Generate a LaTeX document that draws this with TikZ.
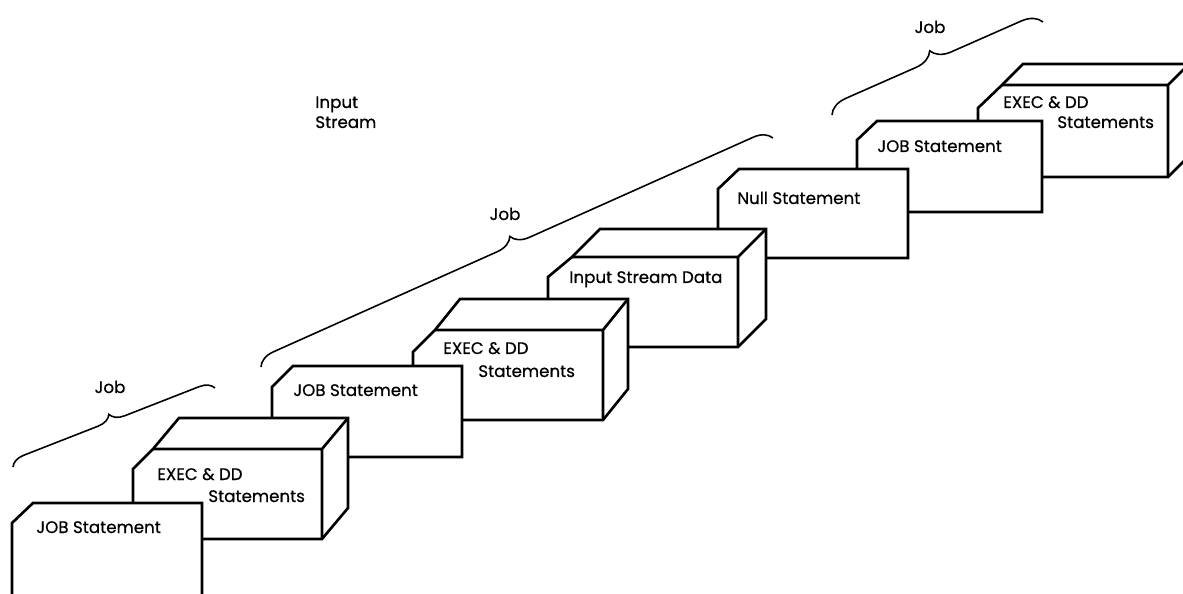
\documentclass[tikz,border=0pt]{standalone}
\usepackage{fontspec}
\setmainfont{Poppins}[FakeBold=0.6]
\usetikzlibrary{decorations.pathreplacing}
\begin{document}
\begin{tikzpicture}[x=0.02cm,y=-0.02cm,every node/.style={font=\fontsize{9.5}{11}\selectfont,inner sep=0pt,anchor=base west},block/.style={draw=black,line width=1.5pt,fill=white,line join=miter},edge/.style={draw=black,line width=1.5pt},jobbrace/.style={draw=black,line width=0.9pt,decorate,decoration={brace,amplitude=#1}}]
\useasboundingbox (0,0) rectangle (1183,594);
\clip (0,0) rectangle (1183,594);
% last job (top right)
\draw[block] (978,177) -- (978,108) -- (1002,85) -- (1023,64) -- (1189,64) -- (1189,156) -- (1168,177) -- cycle;
\draw[edge] (1002,85) -- (1168,85) -- (1168,177) (1168,85) -- (1189,64);
\draw[block] (857,212) -- (857,140) -- (877,121) -- (1042,121) -- (1042,212) -- cycle;
% null statement
\draw[block] (718,258) -- (718,189) -- (739,169) -- (908,169) -- (908,258) -- cycle;
% first big job
\draw[block] (548,347) -- (548,277) -- (572,257) -- (600,229) -- (766,229) -- (766,319) -- (738,347) -- cycle;
\draw[edge] (572,257) -- (738,257) -- (738,347) (738,257) -- (766,229);
\draw[block] (413,420) -- (413,352) -- (435,330) -- (460,299) -- (628,299) -- (628,389) -- (603,420) -- cycle;
\draw[edge] (435,330) -- (603,330) -- (603,420) (603,330) -- (628,299);
\draw[block] (272,457) -- (272,387) -- (293,366) -- (462,366) -- (462,457) -- cycle;
% first job (bottom left)
\draw[block] (133,539) -- (133,469) -- (153,449) -- (179,418) -- (348,418) -- (348,508) -- (322,539) -- cycle;
\draw[edge] (153,449) -- (322,449) -- (322,539) (322,449) -- (348,418);
\draw[block] (12,620) -- (12,523) -- (33,503) -- (202,503) -- (202,620) -- cycle;
% texts
\node (job1) at (36,533) {JOB Statement};
\node (exec1) at (157,480) {EXEC \& DD};
\node (stmt1) at (208,502) {Statements};
\node (job2) at (293,396) {JOB Statement};
\node (exec2) at (443,354) {EXEC \& DD};
\node (stmt2) at (478,377) {Statements};
\node (data) at (569,283) {Input Stream Data};
\node (null) at (737,204) {Null Statement};
\node (job3) at (877,152) {JOB Statement};
\node (exec3) at (1003,108) {EXEC \& DD};
\node (stmt3) at (1057,128) {Statements};
\node (input) at (315,108) {Input};
\node (stream) at (315,128) {Stream};
% braces
\coordinate (b1s) at (13,467); \coordinate (b1e) at (215,388);
\coordinate (b2s) at (261,367); \coordinate (b2e) at (773,138);
\coordinate (b3s) at (832,115); \coordinate (b3e) at (1043,22);
\draw[jobbrace=8pt] (b1s) -- (b1e);
\draw[jobbrace=10pt] (b2s) -- (b2e);
\draw[jobbrace=11pt] (b3s) -- (b3e);
\node[anchor=base] (lab1) at (110,393) {Job};
\node[anchor=base] (lab2) at (505,220) {Job};
\node[anchor=base] (lab3) at (930,33) {Job};
\end{tikzpicture}
\end{document}
